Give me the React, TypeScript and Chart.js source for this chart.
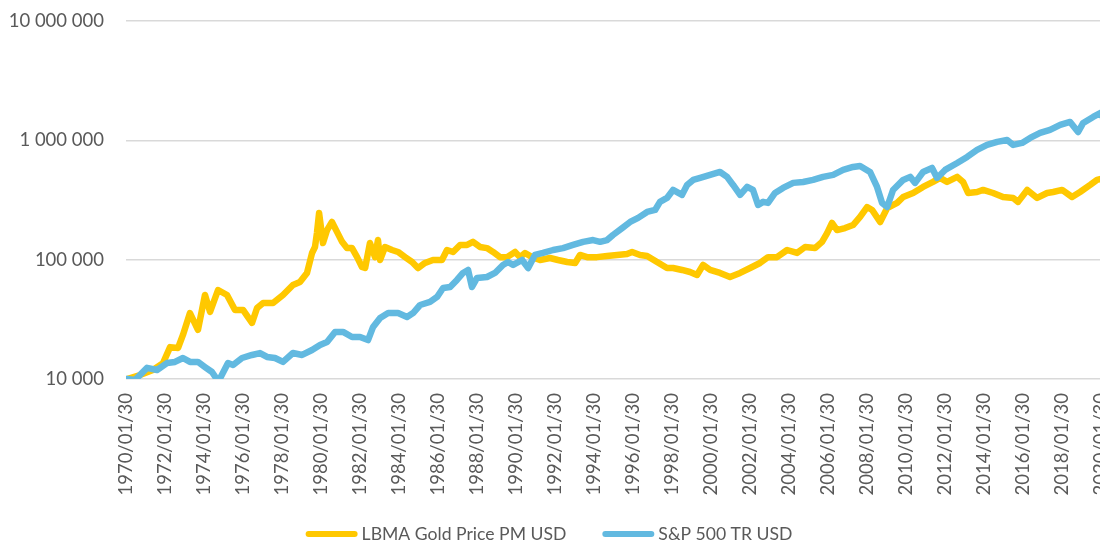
import { useEffect, useRef } from 'react';
import { Chart, registerables } from 'chart.js';

Chart.register(...registerables);

const seriesNames = ['LBMA Gold Price PM USD', 'S&P 500 TR USD'];
const seriesColors = ['#FFC800', '#62B9E0'];

const goldYears = [
  1970.05, 1970.72, 1971.38, 1971.9, 1972.26, 1972.67, 1972.92, 1973.28, 1973.69, 1974.05,
  1974.31, 1974.72, 1975.18, 1975.59, 1976.0, 1976.46, 1976.72, 1977.03, 1977.54, 1978.05,
  1978.56, 1978.92, 1979.28, 1979.54, 1979.69, 1979.79, 1979.9, 1980.1, 1980.31, 1980.56,
  1980.82, 1981.08, 1981.33, 1981.59, 1981.85, 1982.1, 1982.26, 1982.51, 1982.77, 1982.92,
  1983.03, 1983.28, 1983.64, 1983.95, 1984.31, 1984.67, 1984.97, 1985.33, 1985.74, 1986.2,
  1986.46, 1986.77, 1987.13, 1987.49, 1987.79, 1988.15, 1988.51, 1988.82, 1989.18, 1989.54,
  1989.95, 1990.2, 1990.46, 1990.82, 1991.23, 1991.74, 1992.15, 1992.62, 1993.03, 1993.28,
  1993.64, 1994.15, 1994.67, 1995.18, 1995.69, 1995.95, 1996.36, 1996.72, 1997.23, 1997.74,
  1998.05, 1998.51, 1998.92, 1999.28, 1999.59, 1999.95, 2000.46, 2000.97, 2001.49, 2002.0,
  2002.51, 2002.92, 2003.38, 2003.9, 2004.41, 2004.82, 2005.33, 2005.69, 2005.95, 2006.2,
  2006.46, 2006.87, 2007.28, 2007.64, 2008.0, 2008.26, 2008.67, 2009.03, 2009.54, 2009.85,
  2010.36, 2010.87, 2011.38, 2011.74, 2012.1, 2012.62, 2012.92, 2013.18, 2013.64, 2013.95,
  2014.46, 2014.97, 2015.49, 2015.74, 2016.21, 2016.72, 2017.23, 2017.54, 2018.0, 2018.51,
  2018.92, 2019.44, 2019.79, 2020.2,
];
const goldValues = [
  10000, 10800, 11900, 13600, 18500, 18200, 23400, 35700, 25800, 50600,
  36500, 55700, 50600, 37900, 37900, 29500, 39400, 43400, 43400, 50600,
  61400, 65000, 77400, 113800, 127700, 167000, 246000, 138000, 177000, 207000,
  171000, 141000, 125000, 125000, 105000, 86900, 85100, 138000, 105000, 146000,
  99400, 127700, 120500, 116000, 105000, 95600, 85100, 93800, 99400, 99400,
  120500, 116000, 132800, 132800, 141000, 127700, 125000, 116000, 105000, 105000,
  116000, 105000, 113800, 105000, 99400, 103300, 99400, 95600, 93800, 109500,
  105000, 105000, 107400, 109500, 111600, 116000, 109500, 107400, 95600, 85100,
  85100, 82000, 78800, 74400, 90300, 82000, 77400, 71600, 77400, 85100,
  93800, 105000, 105000, 120500, 113800, 127700, 125000, 141000, 167000, 203000,
  177000, 184000, 195000, 228000, 276000, 261000, 207000, 271000, 299000, 335000,
  362000, 407000, 448000, 484000, 448000, 494000, 448000, 362000, 369000, 384000,
  362000, 335000, 329000, 305000, 384000, 329000, 362000, 369000, 384000, 335000,
  369000, 423000, 466000, 484000,
];

const spxYears = [
  1970.05, 1970.46, 1971.08, 1971.59, 1972.1, 1972.51, 1972.92, 1973.28, 1973.69, 1974.05,
  1974.41, 1974.67, 1974.82, 1975.23, 1975.49, 1975.95, 1976.46, 1976.87, 1977.23, 1977.64,
  1978.05, 1978.56, 1979.03, 1979.54, 1979.95, 1980.31, 1980.72, 1981.13, 1981.59, 1982.0,
  1982.41, 1982.67, 1983.03, 1983.44, 1983.95, 1984.41, 1984.72, 1985.08, 1985.59, 1985.95,
  1986.26, 1986.62, 1986.97, 1987.28, 1987.54, 1987.74, 1988.0, 1988.51, 1988.92, 1989.33,
  1989.59, 1989.85, 1990.31, 1990.62, 1990.97, 1991.38, 1991.9, 1992.41, 1992.92, 1993.44,
  1993.95, 1994.31, 1994.67, 1994.97, 1995.44, 1995.85, 1996.26, 1996.72, 1997.13, 1997.38,
  1997.74, 1998.05, 1998.51, 1998.77, 1999.08, 1999.44, 1999.95, 2000.46, 2000.82, 2001.13,
  2001.49, 2001.85, 2002.15, 2002.41, 2002.67, 2002.92, 2003.28, 2003.69, 2004.21, 2004.72,
  2005.23, 2005.74, 2006.26, 2006.77, 2007.28, 2007.64, 2008.15, 2008.51, 2008.77, 2009.03,
  2009.33, 2009.85, 2010.21, 2010.46, 2010.87, 2011.33, 2011.59, 2012.0, 2012.62, 2013.13,
  2013.64, 2014.15, 2014.67, 2015.18, 2015.49, 2015.95, 2016.36, 2016.87, 2017.38, 2017.9,
  2018.41, 2018.82, 2019.08, 2019.59, 2020.05, 2020.2,
];
const spxValues = [
  10000, 9800, 12400, 11900, 13600, 13900, 15000, 13900, 13900, 12600,
  11450, 9900, 10100, 13600, 13100, 15000, 15900, 16500, 15300, 15000,
  13900, 16500, 15900, 17500, 19300, 20400, 24800, 24800, 22500, 22500,
  21200, 27300, 32500, 35700, 35700, 33100, 35700, 41700, 44200, 48700,
  57900, 59000, 67600, 77400, 82000, 59000, 70300, 71600, 77400, 90300,
  95600, 90300, 99400, 85100, 109500, 113800, 120500, 125000, 132800, 141000,
  146000, 141000, 146000, 161000, 184000, 207000, 224000, 251000, 261000, 305000,
  329000, 384000, 349000, 423000, 466000, 484000, 513000, 543000, 494000, 423000,
  349000, 407000, 384000, 287000, 305000, 299000, 362000, 399000, 440000, 448000,
  466000, 494000, 513000, 565000, 598000, 610000, 543000, 407000, 299000, 276000,
  384000, 466000, 494000, 440000, 543000, 587000, 484000, 565000, 646000, 726000,
  831000, 915000, 970000, 1007000, 915000, 951000, 1047000, 1153000, 1222000, 1346000,
  1426000, 1175000, 1399000, 1570000, 1720000, 1200000,
];

const yTickValues = [10000, 100000, 1000000, 10000000];
const xTickYears = [
  1970, 1972, 1974, 1976, 1978, 1980, 1982, 1984, 1986, 1988, 1990, 1992, 1994,
  1996, 1998, 2000, 2002, 2004, 2006, 2008, 2010, 2012, 2014, 2016, 2018, 2020,
];
const xMin = 1970;
const xMax = 2020.25;

const FONT_FAMILY = 'Lato, "Open Sans", sans-serif';
const FONT_SIZE = 18.5;
const LEGEND_FONT_SIZE = 17.6;
const TEXT_COLOR = '#595959';

const fmtSpace = (v: number) => String(Math.round(v)).replace(/\B(?=(\d{3})+(?!\d))/g, ' ');

const legendPlugin = {
  id: 'bottomLegend',
  afterDraw(chart: any) {
    const ctx = chart.ctx as CanvasRenderingContext2D;
    ctx.save();
    ctx.font = `${LEGEND_FONT_SIZE}px ${FONT_FAMILY}`;
    const lineLen = 52;
    const gap = 4;
    const itemGap = 36;
    const widths = seriesNames.map((n) => ctx.measureText(n).width);
    const total =
      widths.reduce((a, w) => a + lineLen + gap + w, 0) + itemGap * (seriesNames.length - 1);
    let x = 549 - total / 2;
    const y = 534;
    seriesNames.forEach((name, i) => {
      ctx.strokeStyle = seriesColors[i];
      ctx.lineWidth = 6;
      ctx.lineCap = 'round';
      ctx.beginPath();
      ctx.moveTo(x + 3, y);
      ctx.lineTo(x + lineLen - 3, y);
      ctx.stroke();
      ctx.fillStyle = TEXT_COLOR;
      ctx.textBaseline = 'middle';
      ctx.textAlign = 'left';
      ctx.fillText(name, x + lineLen + gap, y);
      x += lineLen + gap + widths[i] + itemGap;
    });
    ctx.restore();
  },
};

export default function App() {
  const canvasRef = useRef<HTMLCanvasElement | null>(null);

  useEffect(() => {
    const canvas = canvasRef.current;
    if (!canvas) return;
    const chart = new Chart(canvas, {
      type: 'line',
      data: {
        datasets: [
          {
            label: seriesNames[1],
            data: spxYears.map((x, i) => ({ x, y: spxValues[i] })),
            borderColor: seriesColors[1],
            backgroundColor: seriesColors[1],
            borderWidth: 6.5,
            pointRadius: 0,
            tension: 0,
            borderJoinStyle: 'round',
            borderCapStyle: 'round',
          },
          {
            label: seriesNames[0],
            data: goldYears.map((x, i) => ({ x, y: goldValues[i] })),
            borderColor: seriesColors[0],
            backgroundColor: seriesColors[0],
            borderWidth: 6.5,
            pointRadius: 0,
            tension: 0,
            borderJoinStyle: 'round',
            borderCapStyle: 'round',
          },
        ],
      },
      options: {
        animation: false,
        responsive: false,
        layout: { padding: { top: 21, left: 0, right: 0, bottom: 0 } },
        plugins: {
          legend: { display: false },
          tooltip: { enabled: false },
        },
        scales: {
          x: {
            type: 'linear',
            min: xMin,
            max: xMax,
            grid: { display: false, drawTicks: false },
            border: { display: false },
            afterBuildTicks: (scale: any) => {
              scale.ticks = xTickYears.map((v) => ({ value: v }));
            },
            afterFit: (scale: any) => {
              scale.height = 166;
              scale.paddingLeft = 0;
              scale.paddingRight = 0;
            },
            ticks: {
              autoSkip: false,
              minRotation: 90,
              maxRotation: 90,
              padding: 14,
              color: TEXT_COLOR,
              font: { family: FONT_FAMILY, size: FONT_SIZE },
              callback: (v: any) => `${v}/01/30`,
            },
          },
          y: {
            type: 'logarithmic',
            min: 10000,
            max: 10000000,
            grid: { color: '#d9d9d9', lineWidth: 1.5, drawTicks: false },
            border: { display: false },
            afterBuildTicks: (scale: any) => {
              scale.ticks = yTickValues.map((v) => ({ value: v }));
            },
            afterFit: (scale: any) => {
              scale.width = 126;
              scale.paddingTop = 0;
              scale.paddingBottom = 0;
            },
            ticks: {
              padding: 22,
              color: TEXT_COLOR,
              font: { family: FONT_FAMILY, size: FONT_SIZE },
              callback: (v: any) => fmtSpace(Number(v)),
            },
          },
        },
      },
      plugins: [legendPlugin],
    } as any);
    return () => chart.destroy();
  }, []);

  return (
    <div
      style={{
        position: 'fixed',
        left: 0,
        top: 0,
        width: 1100,
        height: 545,
        overflow: 'hidden',
        background: '#ffffff',
      }}
    >
      <canvas
        ref={canvasRef}
        width={1106}
        height={545}
        style={{ width: 1106, height: 545, display: 'block' }}
      />
    </div>
  );
}
